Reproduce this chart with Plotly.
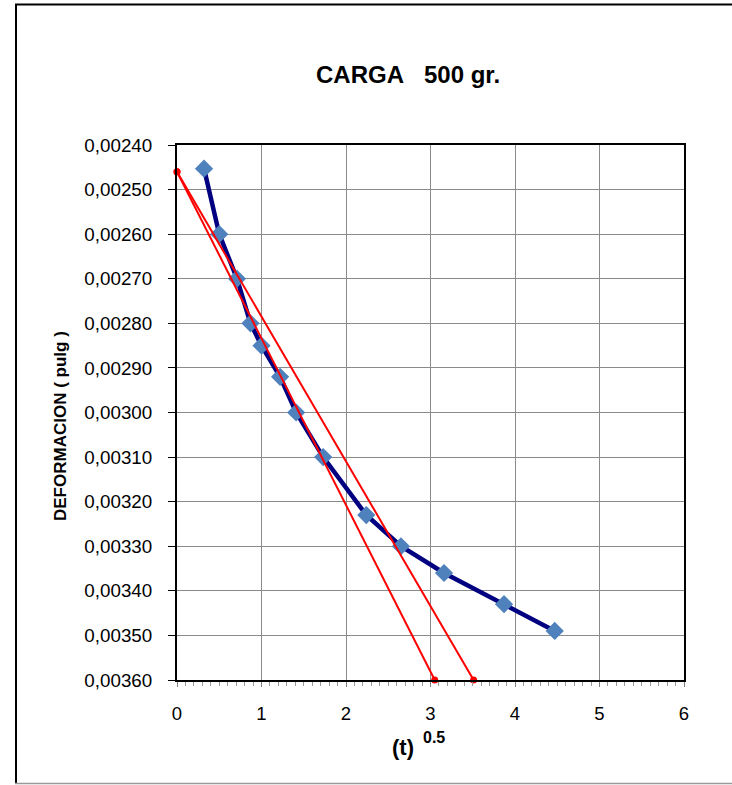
import plotly.graph_objects as go

# Consolidation readings: square root of time vs. dial deformation
raiz_t = [0.32, 0.50, 0.71, 0.87, 1.00, 1.22, 1.41, 1.73, 2.24, 2.65, 3.16, 3.87, 4.47]
deformacion = [0.002453, 0.00260, 0.00270, 0.00280, 0.00285, 0.00292, 0.00300,
               0.00310, 0.00323, 0.00330, 0.00336, 0.00343, 0.00349]

# Construction lines (Taylor method): tangent and 1.15 x abscissa line
recta_x = [0.0, 3.05]
recta_y = [0.00246, 0.00360]
recta115_x = [0.0, 3.51]
recta115_y = [0.00246, 0.00360]

y_ticks = [0.00240, 0.00250, 0.00260, 0.00270, 0.00280, 0.00290, 0.00300,
           0.00310, 0.00320, 0.00330, 0.00340, 0.00350, 0.00360]
y_ticktext = ["0,00240", "0,00250", "0,00260", "0,00270", "0,00280", "0,00290",
              "0,00300", "0,00310", "0,00320", "0,00330", "0,00340", "0,00350",
              "0,00360"]
x_ticks = [0, 1, 2, 3, 4, 5, 6]

W, H = 732, 785
ML, MR, MT, MB = 177, 48, 145, 105
PW, PH = W - ML - MR, H - MT - MB


def px(xp):
    return (xp - ML) / PW


def py(yp):
    return (H - MB - yp) / PH


FONT = "Liberation Sans, Arial, sans-serif"

fig = go.Figure()

fig.add_trace(go.Scatter(
    x=raiz_t, y=deformacion, mode="lines+markers",
    line=dict(color="#000080", width=4.5),
    marker=dict(symbol="diamond", size=14, color="#4F81BD"),
    showlegend=False, cliponaxis=False,
))
for xs, ys in ((recta_x, recta_y), (recta115_x, recta115_y)):
    fig.add_trace(go.Scatter(
        x=xs, y=ys, mode="lines+markers",
        line=dict(color="#FF0000", width=2),
        marker=dict(symbol="circle", size=7, color="#FF0000"),
        showlegend=False, cliponaxis=False,
    ))

fig.update_layout(
    width=W, height=H,
    margin=dict(l=ML, r=MR, t=MT, b=MB, pad=0),
    paper_bgcolor="white", plot_bgcolor="white",
    font=dict(family=FONT, size=18, color="black"),
    xaxis=dict(
        range=[0, 6], tickvals=x_ticks, ticktext=[str(v) for v in x_ticks],
        showgrid=True, gridcolor="#8a8a8a", gridwidth=1,
        showline=True, linecolor="black", linewidth=2, mirror=True,
        ticks="outside", ticklen=5, tickcolor="#808080",
        minor=dict(dtick=0.1, ticks="outside", ticklen=4, tickcolor="#9a9a9a", showgrid=False),
        ticklabelstandoff=11, zeroline=False,
        tickfont=dict(family=FONT, size=18.5),
    ),
    yaxis=dict(
        range=[0.0036, 0.0024], tickvals=y_ticks, ticktext=y_ticktext,
        showgrid=True, gridcolor="#8a8a8a", gridwidth=1,
        showline=True, linecolor="black", linewidth=2, mirror=True,
        ticks="outside", ticklen=7, tickcolor="black",
        ticklabelstandoff=12, zeroline=False,
        tickfont=dict(family=FONT, size=18.8),
    ),
    annotations=[
        dict(text="<b>CARGA\u00a0\u00a0\u00a0500 gr.</b>", xref="paper", yref="paper",
             x=px(408), y=py(75), xanchor="center", yanchor="middle",
             showarrow=False, font=dict(family=FONT, size=24)),
        dict(text="<b>(t)</b>", xref="paper", yref="paper",
             x=px(403), y=py(747), xanchor="center", yanchor="middle",
             showarrow=False, font=dict(family=FONT, size=22)),
        dict(text="<b>0.5</b>", xref="paper", yref="paper",
             x=px(434), y=py(737), xanchor="center", yanchor="middle",
             showarrow=False, font=dict(family=FONT, size=16)),
        dict(text="<b>DEFORMACION ( pulg )</b>", xref="paper", yref="paper",
             x=px(60), y=py(426), xanchor="center", yanchor="middle", textangle=-90,
             showarrow=False, font=dict(family=FONT, size=17)),
    ],
    shapes=[
        dict(type="line", xref="paper", yref="paper", x0=px(16), x1=px(16),
             y0=py(4), y1=py(784), line=dict(color="black", width=2)),
        dict(type="line", xref="paper", yref="paper", x0=px(15), x1=px(740),
             y0=py(4.5), y1=py(4.5), line=dict(color="black", width=2)),
        dict(type="line", xref="paper", yref="paper", x0=px(15), x1=px(740),
             y0=py(783.5), y1=py(783.5), line=dict(color="#9a9a9a", width=1.5)),
    ],
)

fig.write_html("out.html")
